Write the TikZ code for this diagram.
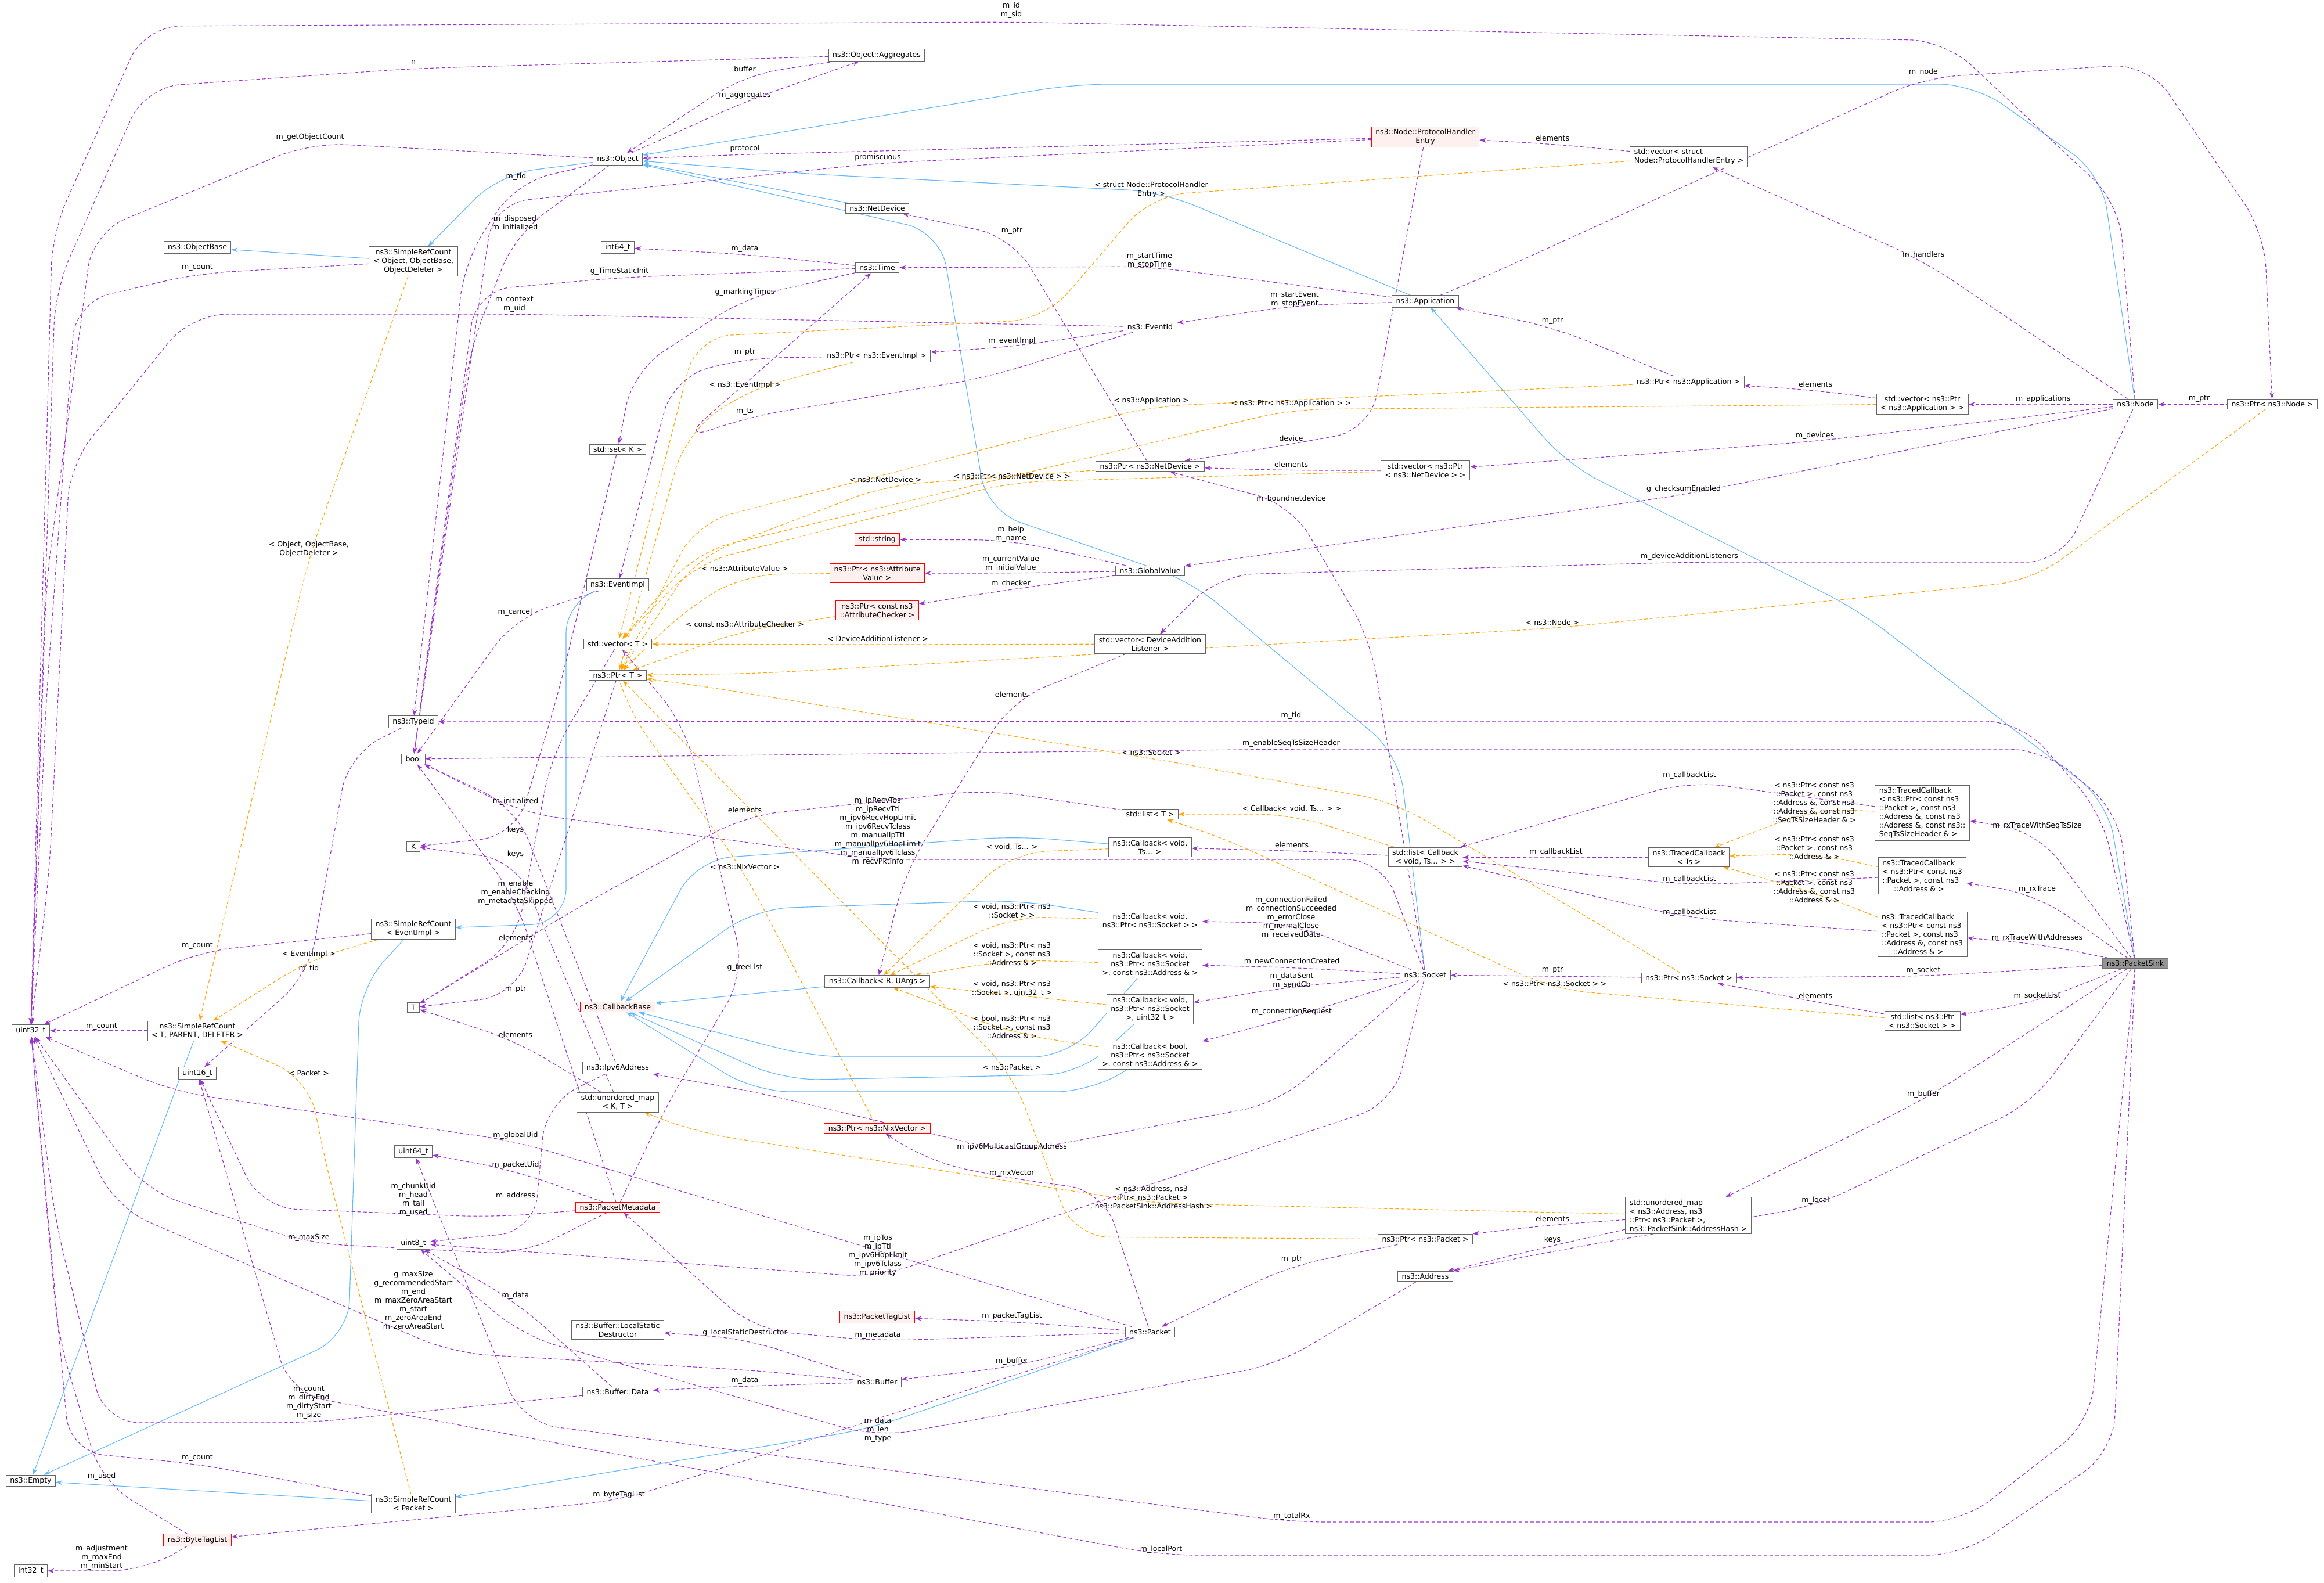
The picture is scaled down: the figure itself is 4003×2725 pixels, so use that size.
\documentclass[tikz,border=0pt]{standalone}
\usepackage{fontspec}
\setmainfont{DejaVu Sans}
\usetikzlibrary{calc,arrows.meta,backgrounds}
\definecolor{purp}{HTML}{9A32CD}
\definecolor{orng}{HTML}{FFA500}
\definecolor{blu}{HTML}{63B8FF}
\tikzset{
 box/.style={draw=black!60,fill=white,line width=1pt,inner xsep=7pt,inner ysep=4pt,align=center,font=\fontsize{12.5}{15}\selectfont},
 rbox/.style={box,draw=red,fill=red!6},
 lbox/.style={box,align=left},
 sinkbox/.style={box,fill=black!42,draw=black!55},
 lbl/.style={inner sep=1pt,align=center,font=\fontsize{12.5}{15}\selectfont},
 usedge/.style={draw=purp,line width=1.1pt,rounded corners=60pt,dash pattern=on 6pt off 4pt,-{Stealth[length=11pt,width=8pt]}},
 tmpledge/.style={draw=orng,line width=1.1pt,rounded corners=60pt,dash pattern=on 6pt off 4pt,-{Stealth[length=11pt,width=8pt]}},
 inhedge/.style={draw=blu,line width=1.1pt,rounded corners=60pt,-{Stealth[length=11pt,width=8pt]}},
}
% style, from, to, label point, text
\newcommand\lk[5]{\draw[#1] (#2) -- ($(#4)+(0,10)$) -- (#3); \node[lbl] at (#4) {#5};}
% style, from, waypoints, to, label point, text
\newcommand\lkw[6]{\draw[#1] (#2) #3 -- (#4); \node[lbl] at (#5) {#6};}
\begin{document}
\begin{tikzpicture}[x=1pt,y=-1pt]
\useasboundingbox (0,0) rectangle (4003,2725);
% nodes
\node[box] (agg) at (1510,95) {ns3::Object::Aggregates};
\node[box] (obj) at (1064,274) {ns3::Object};
\node[box] (objb) at (340,426) {ns3::ObjectBase};
\node[box] (srcObj) at (712,450) {ns3::SimpleRefCount\\< Object, ObjectBase,\\ObjectDeleter >};
\node[box] (i64) at (1064,426) {int64\_t};
\node[box] (setK) at (1064,774) {std::set< K >};
\node[box] (evimpl) at (1064,1007) {ns3::EventImpl};
\node[box] (vecT) at (1064,1109) {std::vector< T >};
\node[box] (ptrT) at (1064,1163) {ns3::Ptr< T >};
\node[box] (tid) at (712,1243) {ns3::TypeId};
\node[box] (bool) at (712,1307) {bool};
\node[box] (K) at (712,1458) {K};
\node[box] (srcEv) at (712,1600) {ns3::SimpleRefCount\\< EventImpl >};
\node[box] (u32) at (53,1775) {uint32\_t};
\node[box] (srcT) at (340,1775) {ns3::SimpleRefCount\\< T, PARENT, DELETER >};
\node[box] (u16) at (340,1848) {uint16\_t};
\node[box] (T) at (712,1735) {T};
\node[rbox] (cbb) at (1064,1734) {ns3::CallbackBase};
\node[box] (ipv6) at (1064,1839) {ns3::Ipv6Address};
\node[box] (umapKT) at (1064,1898) {std::unordered\_map\\< K, T >};
\node[box] (u64) at (712,1983) {uint64\_t};
\node[rbox] (pmeta) at (1064,2079) {ns3::PacketMetadata};
\node[box] (u8) at (712,2141) {uint8\_t};
\node[box] (lsd) at (1064,2290) {ns3::Buffer::LocalStatic\\Destructor};
\node[box] (bdata) at (1064,2397) {ns3::Buffer::Data};
\node[box] (empty) at (53,2550) {ns3::Empty};
\node[box] (srcPkt) at (712,2589) {ns3::SimpleRefCount\\< Packet >};
\node[rbox] (btl) at (340,2652) {ns3::ByteTagList};
\node[box] (i32) at (53,2705) {int32\_t};
\node[rbox] (phe) at (2455,236) {ns3::Node::ProtocolHandler\\Entry};
\node[box] (netdev) at (1511,359) {ns3::NetDevice};
\node[box] (time) at (1511,461) {ns3::Time};
\node[box] (evid) at (1981,563) {ns3::EventId};
\node[box] (ptrEv) at (1510,613) {ns3::Ptr< ns3::EventImpl >};
\node[box] (app) at (2455,519) {ns3::Application};
\node[box] (ptrND) at (1981,803) {ns3::Ptr< ns3::NetDevice >};
\node[box] (vecND) at (2455,810) {std::vector< ns3::Ptr\\< ns3::NetDevice > >};
\node[rbox] (str) at (1511,929) {std::string};
\node[rbox] (ptrAV) at (1511,987) {ns3::Ptr< ns3::Attribute\\Value >};
\node[box] (gv) at (1981,983) {ns3::GlobalValue};
\node[rbox] (ptrAC) at (1511,1051) {ns3::Ptr< const ns3\\::AttributeChecker >};
\node[box] (vecDAL) at (1981,1109) {std::vector< DeviceAddition\\Listener >};
\node[lbox] (vecPHE) at (2909,270) {std::vector< struct\\ Node::ProtocolHandlerEntry >};
\node[box] (ptrApp) at (2908,658) {ns3::Ptr< ns3::Application >};
\node[box] (vecApp) at (3311,696) {std::vector< ns3::Ptr\\< ns3::Application > >};
\node[box] (node) at (3678,696) {ns3::Node};
\node[box] (ptrNode) at (3914,696) {ns3::Ptr< ns3::Node >};
\node[lbox] (tcSeq) at (3311,1400) {ns3::TracedCallback\\< ns3::Ptr< const ns3\\::Packet >, const ns3\\::Address \&, const ns3\\::Address \&, const ns3::\\ SeqTsSizeHeader \& >};
\node[box] (tcTs) at (2909,1476) {ns3::TracedCallback\\< Ts >};
\node[lbox] (tcA) at (3311,1508) {ns3::TracedCallback\\< ns3::Ptr< const ns3\\::Packet >, const ns3\\ \ \ \ \ \ ::Address \& >};
\node[lbox] (tcAA) at (3311,1609) {ns3::TracedCallback\\< ns3::Ptr< const ns3\\::Packet >, const ns3\\::Address \&, const ns3\\ \ \ \ \ \ ::Address \& >};
\node[sinkbox] (sink) at (3678,1659) {ns3::PacketSink};
\node[box] (ptrSock) at (2909,1684) {ns3::Ptr< ns3::Socket >};
\node[box] (listSock) at (3311,1758) {std::list< ns3::Ptr\\< ns3::Socket > >};
\node[lbox] (umapA) at (2908,2093) {std::unordered\_map\\< ns3::Address, ns3\\::Ptr< ns3::Packet >,\\ ns3::PacketSink::AddressHash >};
\node[box] (listT) at (1981,1402) {std::list< T >};
\node[box] (cbTs) at (1981,1459) {ns3::Callback< void,\\Ts... >};
\node[box] (listCb) at (2455,1476) {std::list< Callback\\< void, Ts... > >};
\node[box] (cbS) at (1981,1585) {ns3::Callback< void,\\ns3::Ptr< ns3::Socket > >};
\node[box] (cbSA) at (1981,1660) {ns3::Callback< void,\\ns3::Ptr< ns3::Socket\\>, const ns3::Address \& >};
\node[box] (cbSU) at (1981,1738) {ns3::Callback< void,\\ns3::Ptr< ns3::Socket\\>, uint32\_t >};
\node[box] (cbB) at (1981,1817) {ns3::Callback< bool,\\ns3::Ptr< ns3::Socket\\>, const ns3::Address \& >};
\node[box] (cbRU) at (1511,1690) {ns3::Callback< R, UArgs >};
\node[box] (sock) at (2455,1679) {ns3::Socket};
\node[rbox] (ptrNix) at (1511,1943) {ns3::Ptr< ns3::NixVector >};
\node[box] (ptrPkt) at (2455,2134) {ns3::Ptr< ns3::Packet >};
\node[box] (addr) at (2455,2198) {ns3::Address};
\node[rbox] (ptl) at (1511,2268) {ns3::PacketTagList};
\node[box] (pkt) at (1981,2294) {ns3::Packet};
\node[box] (buf) at (1511,2380) {ns3::Buffer};
\begin{pgfonlayer}{background}
\fill[white] (0,0) rectangle (4003,2725);
% inheritance
\lkw{inhedge}{obj}{-- (860,300)}{srcObj}{0,0}{}
\draw[inhedge] (srcObj) -- (objb);
\draw[inhedge] (srcT) -- (empty);
\lkw{inhedge}{srcEv}{-- (620,1700) -- (600,2300)}{empty}{0,0}{}
\draw[inhedge] (srcPkt) -- (empty);
\lkw{inhedge}{evimpl}{-- (975,1030) -- (975,1590)}{srcEv}{0,0}{}
\lkw{inhedge}{pkt}{-- (1500,2460) -- (900,2560)}{srcPkt}{0,0}{}
\draw[inhedge] (netdev) -- (obj);
\lkw{inhedge}{app}{-- (2000,330) -- (1400,300)}{obj}{0,0}{}
\lkw{inhedge}{node}{-- (3620,300) -- (3400,145) -- (1850,145)}{obj}{0,0}{}
\lkw{inhedge}{sock}{-- (2410,1300) -- (2050,1000) -- (1700,880) -- (1620,400)}{obj}{0,0}{}
\lkw{inhedge}{sink}{-- (3630,1380) -- (3200,1050) -- (2700,800)}{app}{0,0}{}
\lkw{inhedge}{cbTs}{-- (1750,1440) -- (1200,1480)}{cbb}{0,0}{}
\lkw{inhedge}{cbS}{-- (1750,1550) -- (1300,1565)}{cbb}{0,0}{}
\lkw{inhedge}{cbSA}{-- (1840,1820) -- (1400,1820)}{cbb}{0,0}{}
\lkw{inhedge}{cbSU}{-- (1860,1850) -- (1350,1860)}{cbb}{0,0}{}
\lkw{inhedge}{cbB}{-- (1880,1880) -- (1300,1880)}{cbb}{0,0}{}
\draw[inhedge] (cbRU) -- (cbb);
% usage
\lkw{usedge}{node}{-- (3650,350) -- (3350,70) -- (1742,38) -- (250,45) -- (90,400)}{u32}{1742,18}{m\_id\\m\_sid}
\lkw{usedge}{agg}{-- (712,118) -- (250,150) -- (95,500)}{u32}{712,107}{n}
\lk{usedge}{agg}{obj}{1283,119}{buffer}
\lk{usedge}{obj}{agg}{1283,165}{m\_aggregates}
\lkw{usedge}{obj}{-- (534,246) -- (160,400) -- (80,1000)}{u32}{534,236}{m\_getObjectCount}
\lk{usedge}{phe}{obj}{1283,256}{protocol}
\lkw{usedge}{phe}{-- (1512,281) -- (850,350)}{bool}{1512,271}{promiscuous}
\lkw{usedge}{obj}{-- (889,314) -- (800,450)}{tid}{889,304}{m\_tid}
\lkw{usedge}{obj}{-- (887,405) -- (810,600)}{bool}{887,385}{m\_disposed\\m\_initialized}
\lkw{usedge}{srcObj}{-- (340,471) -- (130,520) -- (80,1200)}{u32}{340,461}{m\_count}
\lk{usedge}{time}{i64}{1283,428}{m\_data}
\lkw{usedge}{time}{-- (1067,478) -- (820,500)}{bool}{1067,467}{g\_TimeStaticInit}
\lkw{usedge}{evid}{-- (886,541) -- (330,541) -- (120,800) -- (85,1500)}{u32}{886,524}{m\_context\\m\_uid}
\lkw{usedge}{time}{-- (1283,513) -- (1090,640)}{setK}{1283,503}{g\_markingTimes}
\lk{usedge}{evid}{ptrEv}{1743,587}{m\_eventImpl}
\lkw{usedge}{ptrEv}{-- (1283,617) -- (1160,650)}{evimpl}{1283,607}{m\_ptr}
\lkw{usedge}{evid}{-- (1700,650) -- (1283,719) -- (1170,760)}{time}{1283,709}{m\_ts}
\lk{usedge}{app}{time}{1980,449}{m\_startTime\\m\_stopTime}
\lk{usedge}{app}{evid}{2230,516}{m\_startEvent\\m\_stopEvent}
\lkw{usedge}{app}{-- (2550,480) -- (3313,134) -- (3700,110) -- (3900,400)}{ptrNode}{3313,124}{m\_node}
\lk{usedge}{ptrApp}{app}{2674,553}{m\_ptr}
\lk{usedge}{vecApp}{ptrApp}{3127,662}{elements}
\lk{usedge}{node}{vecApp}{3519,687}{m\_applications}
\lk{usedge}{ptrNode}{node}{3788,687}{m\_ptr}
\lk{usedge}{node}{vecPHE}{3313,439}{m\_handlers}
\lk{usedge}{vecPHE}{phe}{2674,238}{elements}
\lkw{usedge}{phe}{-- (2360,740) -- (2224,765)}{ptrND}{2224,755}{device}
\lk{usedge}{ptrND}{netdev}{1743,398}{m\_ptr}
\lk{usedge}{vecND}{ptrND}{2224,800}{elements}
\lk{usedge}{node}{vecND}{3126,750}{m\_devices}
\lk{usedge}{node}{gv}{2900,842}{g\_checksumEnabled}
\lkw{usedge}{node}{-- (3550,968) -- (2910,968) -- (2100,990)}{vecDAL}{2910,958}{m\_deviceAdditionListeners}
\lk{usedge}{gv}{str}{1741,920}{m\_help\\m\_name}
\lkw{usedge}{gv}{-- (1741,987)}{ptrAV}{1741,971}{m\_currentValue\\m\_initialValue}
\lk{usedge}{gv}{ptrAC}{1741,1005}{m\_checker}
\lkw{usedge}{vecDAL}{-- (1743,1206) -- (1560,1500)}{cbRU}{1743,1196}{elements}
\lkw{usedge}{sink}{-- (3620,1400) -- (3480,1242) -- (2224,1242)}{tid}{2224,1232}{m\_tid}
\lkw{usedge}{sink}{-- (3650,1400) -- (3520,1290) -- (2224,1290)}{bool}{2224,1280}{m\_enableSeqTsSizeHeader}
\lkw{usedge}{sock}{-- (2380,1480) -- (1512,1480) -- (900,1400)}{bool}{1512,1432}{m\_ipRecvTos\\m\_ipRecvTtl\\m\_ipv6RecvHopLimit\\m\_ipv6RecvTclass\\m\_manualIpTtl\\m\_manualIpv6HopLimit\\m\_manualIpv6Tclass\\m\_recvPktInfo}
\lkw{usedge}{listT}{-- (1700,1360) -- (1283,1405) -- (1000,1560)}{T}{1283,1395}{elements}
\lkw{usedge}{vecT}{-- (950,1300) -- (888,1625)}{T}{888,1615}{elements}
\lk{usedge}{umapKT}{T}{888,1782}{elements}
\lkw{usedge}{setK}{-- (960,1200) -- (888,1439)}{K}{888,1429}{keys}
\lk{usedge}{umapKT}{K}{888,1471}{keys}
\lk{usedge}{ipv6}{bool}{888,1380}{m\_initialized}
\lk{usedge}{evimpl}{bool}{887,1054}{m\_cancel}
\lk{usedge}{pmeta}{bool}{888,1537}{m\_enable\\m\_enableChecking\\m\_metadataSkipped}
\lk{usedge}{ptrT}{T}{888,1704}{m\_ptr}
\lkw{usedge}{tid}{-- (600,1300) -- (532,1678)}{u16}{532,1668}{m\_tid}
\lk{usedge}{srcEv}{u32}{340,1629}{m\_count}
\draw[usedge] (srcT) -- (u32); \node[lbl] at (175,1768) {m\_count};
\lkw{usedge}{pkt}{-- (1500,2150) -- (888,1965) -- (300,1880)}{u32}{888,1955}{m\_globalUid}
\lk{usedge}{pmeta}{u64}{888,2006}{m\_packetUid}
\lkw{usedge}{pmeta}{-- (850,2096) -- (450,2080)}{u16}{712,2066}{m\_chunkUid\\m\_head\\m\_tail\\m\_used}
\lkw{usedge}{ipv6}{-- (940,1900) -- (920,2120)}{u8}{888,2059}{m\_address}
\lkw{usedge}{pmeta}{-- (900,2160) -- (532,2141) -- (250,2050)}{u32}{532,2131}{m\_maxSize}
\lkw{usedge}{buf}{-- (1300,2360) -- (780,2330) -- (200,2080)}{u32}{712,2240}{g\_maxSize\\g\_recommendedStart\\m\_end\\m\_maxZeroAreaStart\\m\_start\\m\_zeroAreaEnd\\m\_zeroAreaStart}
\lk{usedge}{bdata}{u8}{888,2231}{m\_data}
\lk{usedge}{buf}{lsd}{1283,2295}{g\_localStaticDestructor}
\lk{usedge}{buf}{bdata}{1283,2377}{m\_data}
\lkw{usedge}{bdata}{-- (532,2450) -- (180,2450) -- (95,2100)}{u32}{532,2415}{m\_count\\m\_dirtyEnd\\m\_dirtyStart\\m\_size}
\lkw{usedge}{srcPkt}{-- (340,2521) -- (120,2500)}{u32}{340,2511}{m\_count}
\lkw{usedge}{btl}{-- (175,2552) -- (100,2300)}{u32}{175,2542}{m\_used}
\lk{usedge}{pkt}{btl}{1066,2574}{m\_byteTagList}
\lkw{usedge}{btl}{-- (250,2705)}{i32}{175,2682}{m\_adjustment\\m\_maxEnd\\m\_minStart}
\lkw{usedge}{pmeta}{-- (1150,1900) -- (1283,1676) -- (1180,1250)}{vecT}{1283,1666}{g\_freeList}
\lk{usedge}{listCb}{cbTs}{2225,1455}{elements}
\lk{usedge}{tcTs}{listCb}{2680,1467}{m\_callbackList}
\lk{usedge}{tcSeq}{listCb}{2910,1335}{m\_callbackList}
\lk{usedge}{tcA}{listCb}{2910,1514}{m\_callbackList}
\lk{usedge}{tcAA}{listCb}{2910,1571}{m\_callbackList}
\lk{usedge}{sock}{cbS}{2224,1580}{m\_connectionFailed\\m\_connectionSucceeded\\m\_errorClose\\m\_normalClose\\m\_receivedData}
\lk{usedge}{sock}{cbSA}{2225,1656}{m\_newConnectionCreated}
\lk{usedge}{sock}{cbSU}{2225,1689}{m\_dataSent\\m\_sendCb}
\lk{usedge}{sock}{cbB}{2225,1742}{m\_connectionRequest}
\lk{usedge}{ptrSock}{sock}{2674,1671}{m\_ptr}
\lkw{usedge}{sock}{-- (2200,1900) -- (1743,1985) -- (1300,1880)}{ipv6}{1743,1975}{m\_ipv6MulticastGroupAddress}
\lkw{usedge}{pkt}{-- (1900,2050) -- (1743,2030) -- (1600,2000)}{ptrNix}{1743,2020}{m\_nixVector}
\lk{usedge}{umapA}{ptrPkt}{2674,2099}{elements}
\lk{usedge}{umapA}{addr}{2674,2135}{keys}
\lk{usedge}{ptrPkt}{pkt}{2225,2169}{m\_ptr}
\lkw{usedge}{sock}{-- (2400,1900) -- (1800,2100) -- (1512,2200)}{u8}{1512,2162}{m\_ipTos\\m\_ipTtl\\m\_ipv6HopLimit\\m\_ipv6Tclass\\m\_priority}
\lk{usedge}{pkt}{ptl}{1743,2266}{m\_packetTagList}
\lkw{usedge}{pkt}{-- (1512,2309) -- (1300,2290)}{pmeta}{1512,2299}{m\_metadata}
\lk{usedge}{pkt}{buf}{1743,2344}{m\_buffer}
\lkw{usedge}{addr}{-- (2200,2350) -- (1512,2475) -- (900,2300)}{u8}{1512,2462}{m\_data\\m\_len\\m\_type}
\lkw{usedge}{sink}{-- (3600,2450) -- (3380,2621) -- (2225,2621) -- (900,2450)}{u64}{2225,2611}{m\_totalRx}
\lkw{usedge}{sink}{-- (3640,2500) -- (3380,2678) -- (2000,2678) -- (500,2400)}{u16}{2000,2668}{m\_localPort}
\lkw{usedge}{sock}{-- (2360,1100) -- (2224,869)}{ptrND}{2224,859}{m\_boundnetdevice}
\lk{usedge}{sink}{ptrSock}{3313,1671}{m\_socket}
\lk{usedge}{sink}{listSock}{3509,1715}{m\_socketList}
\lk{usedge}{listSock}{ptrSock}{3127,1715}{elements}
\lk{usedge}{sink}{tcSeq}{3509,1422}{m\_rxTraceWithSeqTsSize}
\lk{usedge}{sink}{tcA}{3509,1531}{m\_rxTrace}
\lk{usedge}{sink}{tcAA}{3509,1615}{m\_rxTraceWithAddresses}
\lk{usedge}{sink}{umapA}{3313,1884}{m\_buffer}
\lkw{usedge}{sink}{-- (3500,1900) -- (3127,2077) -- (2700,2150)}{addr}{3127,2067}{m\_local}
% templates
\lkw{tmpledge}{srcObj}{-- (532,960)}{srcT}{532,946}{< Object, ObjectBase,\\ObjectDeleter >}
\lk{tmpledge}{srcEv}{srcT}{532,1643}{< EventImpl >}
\lkw{tmpledge}{srcPkt}{-- (560,2000) -- (532,1858)}{srcT}{532,1848}{< Packet >}
\lkw{tmpledge}{vecPHE}{-- (1983,337) -- (1800,550) -- (1200,580)}{vecT}{1983,327}{< struct Node::ProtocolHandler\\Entry >}
\lkw{tmpledge}{ptrEv}{-- (1283,673) -- (1180,750)}{ptrT}{1283,663}{< ns3::EventImpl >}
\lkw{tmpledge}{ptrApp}{-- (1983,700) -- (1200,900)}{ptrT}{1983,690}{< ns3::Application >}
\lkw{tmpledge}{vecApp}{-- (2224,705) -- (1200,950)}{vecT}{2224,695}{< ns3::Ptr< ns3::Application > >}
\lkw{tmpledge}{ptrND}{-- (1525,836) -- (1200,960)}{ptrT}{1525,826}{< ns3::NetDevice >}
\lkw{tmpledge}{vecND}{-- (1743,830) -- (1200,970)}{vecT}{1743,820}{< ns3::Ptr< ns3::NetDevice > >}
\lkw{tmpledge}{ptrAV}{-- (1283,989) -- (1180,1050)}{ptrT}{1283,979}{< ns3::AttributeValue >}
\lkw{tmpledge}{ptrAC}{-- (1283,1085)}{ptrT}{1283,1075}{< const ns3::AttributeChecker >}
\lkw{tmpledge}{vecDAL}{-- (1512,1110)}{vecT}{1512,1100}{< DeviceAdditionListener >}
\lkw{tmpledge}{ptrNode}{-- (3500,1000) -- (2674,1082) -- (1300,1160)}{ptrT}{2674,1072}{< ns3::Node >}
\lkw{tmpledge}{ptrSock}{-- (2400,1380) -- (1983,1306) -- (1200,1180)}{ptrT}{1983,1296}{< ns3::Socket >}
\lkw{tmpledge}{ptrNix}{-- (1283,1503) -- (1080,1220)}{ptrT}{1283,1493}{< ns3::NixVector >}
\lkw{tmpledge}{ptrPkt}{-- (1850,2130) -- (1743,1848) -- (1120,1220)}{ptrT}{1743,1838}{< ns3::Packet >}
\lk{tmpledge}{listCb}{listT}{2225,1392}{< Callback< void, Ts... > >}
\lkw{tmpledge}{listSock}{-- (2678,1704) -- (2100,1440)}{listT}{2678,1694}{< ns3::Ptr< ns3::Socket > >}
\lk{tmpledge}{cbTs}{cbRU}{1743,1458}{< void, Ts... >}
\lk{tmpledge}{cbS}{cbRU}{1743,1568}{< void, ns3::Ptr< ns3\\::Socket > >}
\lk{tmpledge}{cbSA}{cbRU}{1743,1643}{< void, ns3::Ptr< ns3\\::Socket >, const ns3\\::Address \& >}
\lk{tmpledge}{cbSU}{cbRU}{1743,1703}{< void, ns3::Ptr< ns3\\::Socket >, uint32\_t >}
\lk{tmpledge}{cbB}{cbRU}{1743,1769}{< bool, ns3::Ptr< ns3\\::Socket >, const ns3\\::Address \& >}
\lk{tmpledge}{tcSeq}{tcTs}{3125,1383}{< ns3::Ptr< const ns3\\::Packet >, const ns3\\::Address \&, const ns3\\::Address \&, const ns3\\::SeqTsSizeHeader \& >}
\lk{tmpledge}{tcA}{tcTs}{3125,1460}{< ns3::Ptr< const ns3\\::Packet >, const ns3\\::Address \& >}
\lk{tmpledge}{tcAA}{tcTs}{3125,1527}{< ns3::Ptr< const ns3\\::Packet >, const ns3\\::Address \&, const ns3\\::Address \& >}
\lkw{tmpledge}{umapA}{-- (1983,2072) -- (1200,1950)}{umapKT}{1983,2062}{< ns3::Address, ns3\\::Ptr< ns3::Packet >\\, ns3::PacketSink::AddressHash >}
\end{pgfonlayer}
\end{tikzpicture}
\end{document}
